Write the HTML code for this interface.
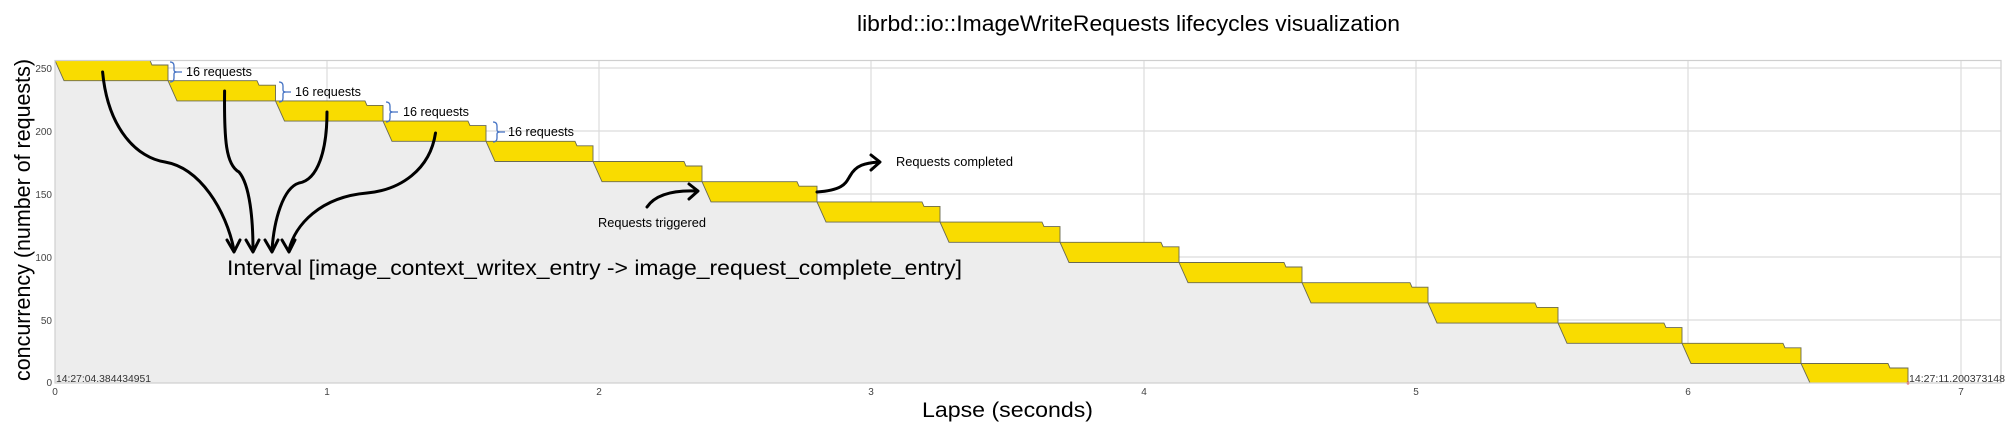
<!DOCTYPE html>
<html><head><meta charset="utf-8"><style>
html,body{margin:0;padding:0;background:#fff;}
svg{display:block;}
text{font-family:"Liberation Sans",sans-serif;}
</style></head><body>
<svg width="2011" height="437" viewBox="0 0 2011 437" xmlns="http://www.w3.org/2000/svg">
<rect x="0" y="0" width="2011" height="437" fill="#fff"/>
<!-- title -->
<text x="857" y="31" font-size="22" textLength="543" lengthAdjust="spacingAndGlyphs" fill="#000">librbd::io::ImageWriteRequests lifecycles visualization</text>
<!-- grid -->
<g stroke="#dcdcdc" stroke-width="1.2">
<line x1="327" y1="60.5" x2="327" y2="383"/>
<line x1="599" y1="60.5" x2="599" y2="383"/>
<line x1="871" y1="60.5" x2="871" y2="383"/>
<line x1="1144" y1="60.5" x2="1144" y2="383"/>
<line x1="1416" y1="60.5" x2="1416" y2="383"/>
<line x1="1688" y1="60.5" x2="1688" y2="383"/>
<line x1="1961" y1="60.5" x2="1961" y2="383"/>
<line x1="55" y1="68" x2="2001" y2="68"/>
<line x1="55" y1="131" x2="2001" y2="131"/>
<line x1="55" y1="194" x2="2001" y2="194"/>
<line x1="55" y1="257" x2="2001" y2="257"/>
<line x1="55" y1="320" x2="2001" y2="320"/>
</g>
<!-- gray area -->
<polygon fill="#ededed" points="55,383 55,60.5 64,80.7 168,80.7 177,100.9 275.5,100.9 284.5,121.1 383,121.1 392,141.3 486,141.3 495,161.5 593,161.5 602,181.7 702,181.7 711,201.9 817,201.9 826,222.1 940,222.1 949,242.3 1060,242.3 1069,262.5 1179,262.5 1188,282.7 1302,282.7 1311,302.9 1428,302.9 1437,323.1 1558,323.1 1567,343.3 1682,343.3 1691,363.5 1801,363.5 1810,383"/>
<!-- yellow blocks -->
<g fill="#f9dc00" stroke="#6a6a50" stroke-width="0.9">
<polygon points="55,60.5 150,60.5 152,65 168,65 168,80.7 64,80.7"/>
<polygon points="168,80.7 257,80.7 259,85.2 275.5,85.2 275.5,100.9 177,100.9"/>
<polygon points="275.5,100.9 365,100.9 367,105.4 383,105.4 383,121.1 284.5,121.1"/>
<polygon points="383,121.1 468,121.1 470,125.6 486,125.6 486,141.3 392,141.3"/>
<polygon points="486,141.3 575,141.3 577,145.8 593,145.8 593,161.5 495,161.5"/>
<polygon points="593,161.5 684,161.5 686,166 702,166 702,181.7 602,181.7"/>
<polygon points="702,181.7 797,181.7 799,186.2 817,186.2 817,201.9 711,201.9"/>
<polygon points="817,201.9 922,201.9 924,206.4 940,206.4 940,222.1 826,222.1"/>
<polygon points="940,222.1 1042,222.1 1044,226.6 1060,226.6 1060,242.3 949,242.3"/>
<polygon points="1060,242.3 1161,242.3 1163,246.8 1179,246.8 1179,262.5 1069,262.5"/>
<polygon points="1179,262.5 1284,262.5 1286,267 1302,267 1302,282.7 1188,282.7"/>
<polygon points="1302,282.7 1410,282.7 1412,287.2 1428,287.2 1428,302.9 1311,302.9"/>
<polygon points="1428,302.9 1535,302.9 1537,307.4 1558,307.4 1558,323.1 1437,323.1"/>
<polygon points="1558,323.1 1664,323.1 1666,327.6 1682,327.6 1682,343.3 1567,343.3"/>
<polygon points="1682,343.3 1783,343.3 1785,347.8 1801,347.8 1801,363.5 1691,363.5"/>
<polygon points="1801,363.5 1888,363.5 1890,368 1908,368 1908,383 1810,383"/>
</g>
<circle cx="1908" cy="383" r="1.5" fill="#e03030"/>
<!-- plot frame -->
<rect x="55" y="60.5" width="1946" height="322.5" fill="none" stroke="#cfcfcf" stroke-width="1.2"/>
<!-- y tick labels -->
<g font-size="10" fill="#444" text-anchor="end">
<text x="52" y="72">250</text>
<text x="52" y="135">200</text>
<text x="52" y="198">150</text>
<text x="52" y="261">100</text>
<text x="52" y="324">50</text>
<text x="52" y="386">0</text>
</g>
<!-- x tick labels -->
<g font-size="10" fill="#444" text-anchor="middle">
<text x="55" y="395">0</text>
<text x="327" y="395">1</text>
<text x="599" y="395">2</text>
<text x="871" y="395">3</text>
<text x="1144" y="395">4</text>
<text x="1416" y="395">5</text>
<text x="1688" y="395">6</text>
<text x="1961" y="395">7</text>
</g>
<text x="56" y="382" font-size="10" fill="#333" textLength="95" lengthAdjust="spacingAndGlyphs">14:27:04.384434951</text>
<text x="1909" y="382" font-size="10" fill="#333" textLength="96" lengthAdjust="spacingAndGlyphs">14:27:11.200373148</text>
<!-- axis labels -->
<text x="922" y="417" font-size="21" fill="#000" textLength="171" lengthAdjust="spacingAndGlyphs">Lapse (seconds)</text>
<text transform="translate(30,220) rotate(-90)" x="0" y="0" text-anchor="middle" font-size="22" fill="#000" textLength="322" lengthAdjust="spacingAndGlyphs">concurrency (number of requests)</text>
<!-- braces -->
<g fill="none" stroke="#4472c4" stroke-width="1.3">
<path d="M170,62 q4,0 4,4 v4 q0,2 3,2 q-3,0 -3,2 v4 q0,4 -4,4 M177,72 h5"/>
<path d="M279,82 q4,0 4,4 v4 q0,2 3,2 q-3,0 -3,2 v4 q0,4 -4,4 M286,92 h5"/>
<path d="M386,102 q4,0 4,4 v4 q0,2 3,2 q-3,0 -3,2 v4 q0,4 -4,4 M393,112 h5"/>
<path d="M493,122 q4,0 4,4 v4 q0,2 3,2 q-3,0 -3,2 v4 q0,4 -4,4 M500,132 h5"/>
</g>
<g font-size="12.5" fill="#000">
<text x="186" y="76" textLength="66" lengthAdjust="spacingAndGlyphs">16 requests</text>
<text x="295" y="96" textLength="66" lengthAdjust="spacingAndGlyphs">16 requests</text>
<text x="403" y="116" textLength="66" lengthAdjust="spacingAndGlyphs">16 requests</text>
<text x="508" y="136" textLength="66" lengthAdjust="spacingAndGlyphs">16 requests</text>
</g>
<!-- curved arrows -->
<g fill="none" stroke="#000" stroke-width="3" stroke-linecap="round" stroke-linejoin="round">
<path d="M102.6,72 C108,130 138,158 165,162 C200,168 226,210 234,250"/>
<path d="M224.6,91 C224,140 226,165 239,172 C250,185 253,220 253,250"/>
<path d="M327,112 C327,150 318,180 299,183 C283,188 274,220 272,250"/>
<path d="M435.5,133 C430,170 400,190 367,193 C320,197 295,225 289,250"/>
<path d="M227,240 L234,252 L240,240"/>
<path d="M246,240 L253,252 L259,240"/>
<path d="M265,240 L272,252 L278,240"/>
<path d="M282,240 L289,252 L295,240"/>
<path d="M647,207 C655,195 672,190 697,191"/>
<path d="M689,184 L698,191 L689,199"/>
<path d="M817,192 C845,190 846,182 850,176 C856,165 865,163 879,162"/>
<path d="M871,155 L880,162 L871,170"/>
</g>
<text x="227" y="275" font-size="21" fill="#000" textLength="735" lengthAdjust="spacingAndGlyphs">Interval [image_context_writex_entry -&gt; image_request_complete_entry]</text>
<text x="598" y="227" font-size="12.5" fill="#000" textLength="108" lengthAdjust="spacingAndGlyphs">Requests triggered</text>
<text x="896" y="166" font-size="12.5" fill="#000" textLength="117" lengthAdjust="spacingAndGlyphs">Requests completed</text>
</svg>
</body></html>
